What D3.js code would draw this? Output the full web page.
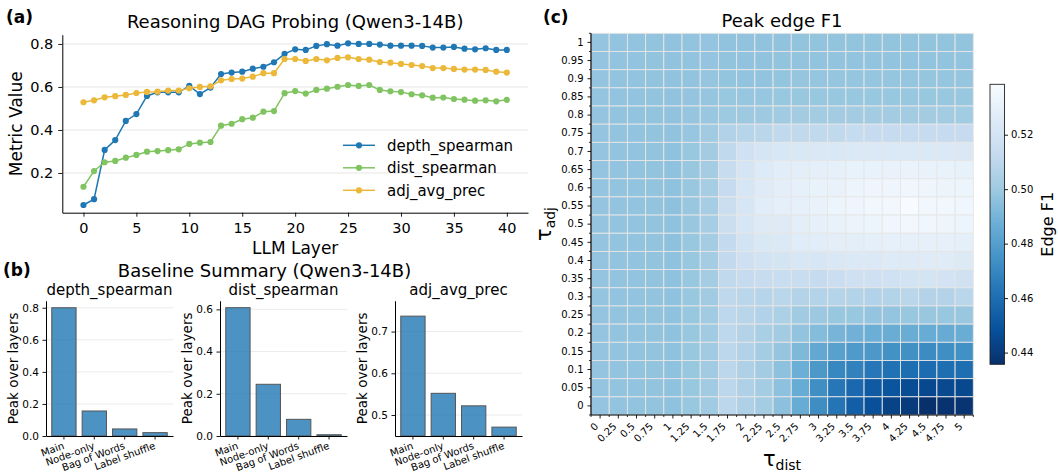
<!DOCTYPE html>
<html><head><meta charset="utf-8">
<script src="https://cdn.jsdelivr.net/npm/d3@7"></script>
<style>
body{margin:0;background:#fff}
svg{display:block}
text{font-family:"DejaVu Sans",sans-serif;fill:#000}
</style>
</head><body>
<svg id="c" width="1058" height="472"></svg>
<script>
// ---------------- DATA ----------------
const layers = [0,1,2,3,4,5,6,7,8,9,10,11,12,13,14,15,16,17,18,19,20,21,22,23,24,25,26,27,28,29,30,31,32,33,34,35,36,37,38,39,40];
const depthSpearman = [0.051,0.078,0.307,0.353,0.442,0.474,0.558,0.575,0.575,0.575,0.605,0.567,0.597,0.660,0.667,0.671,0.685,0.694,0.715,0.754,0.775,0.772,0.791,0.799,0.792,0.803,0.800,0.800,0.797,0.792,0.792,0.792,0.791,0.783,0.783,0.786,0.778,0.775,0.780,0.772,0.772];
const distSpearman = [0.136,0.209,0.250,0.256,0.271,0.284,0.299,0.302,0.306,0.310,0.335,0.341,0.344,0.420,0.429,0.450,0.457,0.485,0.488,0.571,0.581,0.569,0.586,0.592,0.601,0.609,0.605,0.609,0.586,0.580,0.576,0.566,0.561,0.550,0.551,0.544,0.541,0.536,0.538,0.533,0.540];
const adjAvgPrec = [0.529,0.538,0.552,0.557,0.563,0.572,0.577,0.578,0.583,0.583,0.594,0.600,0.603,0.631,0.637,0.639,0.648,0.664,0.664,0.730,0.730,0.721,0.730,0.724,0.735,0.738,0.730,0.727,0.716,0.713,0.707,0.702,0.697,0.688,0.688,0.684,0.681,0.681,0.679,0.671,0.667];
const seriesNames = ["depth_spearman","dist_spearman","adj_avg_prec"];
const layerTicks = [0,5,10,15,20,25,30,35,40];
const metricTicks = [0.2,0.4,0.6,0.8];

const baselines = ["Main","Node-only","Bag of Words","Label shuffle"];
const peakDepth = [0.800,0.156,0.044,0.021];
const peakDist = [0.608,0.245,0.079,0.006];
const peakAdj = [0.737,0.552,0.522,0.471];
const depthTicks = [0.0,0.2,0.4,0.6,0.8];
const distTicks = [0.0,0.2,0.4,0.6];
const adjTicks = [0.5,0.6,0.7];

const tauDist = ["0","0.25","0.5","0.75","1","1.25","1.5","1.75","2","2.25","2.5","2.75","3","3.25","3.5","3.75","4","4.25","4.5","4.75","5"];
const tauAdj = ["1","0.95","0.9","0.85","0.8","0.75","0.7","0.65","0.6","0.55","0.5","0.45","0.4","0.35","0.3","0.25","0.2","0.15","0.1","0.05","0"];
// rows in the order of tauAdj (top to bottom), columns in order of tauDist
const edgeF1 = [
 [.4974,.4972,.4972,.4970,.4968,.4972,.4974,.4968,.4966,.4966,.4968,.4970,.4970,.4970,.4970,.4970,.4970,.4970,.4970,.4970,.4970],
 [.4974,.4972,.4972,.4970,.4968,.4972,.4974,.4970,.4968,.4968,.4970,.4972,.4972,.4972,.4972,.4972,.4972,.4972,.4972,.4972,.4972],
 [.4974,.4972,.4972,.4970,.4968,.4972,.4976,.4975,.4972,.4972,.4975,.4976,.4976,.4976,.4976,.4976,.4976,.4976,.4976,.4976,.4976],
 [.4974,.4972,.4972,.4970,.4968,.4974,.4980,.4984,.4982,.4982,.4984,.4985,.4985,.4985,.4985,.4985,.4985,.4985,.4985,.4985,.4985],
 [.4974,.4972,.4972,.4970,.4968,.4976,.4986,.4996,.4996,.4996,.5010,.5014,.5014,.5015,.5015,.5015,.5015,.5015,.5015,.5015,.5012],
 [.4974,.4972,.4972,.4970,.4966,.4982,.5005,.5060,.5080,.5090,.5110,.5110,.5112,.5112,.5125,.5130,.5130,.5130,.5130,.5130,.5128],
 [.4974,.4972,.4972,.4970,.4962,.4984,.5015,.5110,.5175,.5210,.5225,.5232,.5235,.5235,.5238,.5238,.5238,.5238,.5238,.5238,.5235],
 [.4974,.4972,.4972,.4970,.4962,.4986,.5020,.5140,.5210,.5250,.5270,.5280,.5290,.5298,.5310,.5310,.5315,.5320,.5315,.5310,.5305],
 [.4974,.4972,.4972,.4970,.4962,.4986,.5022,.5130,.5215,.5260,.5280,.5298,.5310,.5315,.5334,.5340,.5340,.5345,.5340,.5334,.5330],
 [.4974,.4972,.4972,.4970,.4960,.4986,.5022,.5150,.5220,.5270,.5290,.5300,.5315,.5334,.5340,.5350,.5355,.5385,.5355,.5350,.5345],
 [.4974,.4972,.4972,.4970,.4962,.4986,.5022,.5150,.5220,.5255,.5257,.5280,.5298,.5310,.5325,.5334,.5345,.5354,.5345,.5340,.5334],
 [.4974,.4972,.4972,.4970,.4960,.4985,.5020,.5120,.5190,.5230,.5240,.5265,.5270,.5280,.5280,.5290,.5298,.5298,.5295,.5298,.5290],
 [.4974,.4972,.4972,.4970,.4962,.4985,.5020,.5115,.5170,.5190,.5200,.5225,.5220,.5235,.5240,.5240,.5255,.5255,.5260,.5260,.5245],
 [.4974,.4972,.4972,.4970,.4962,.4985,.5018,.5110,.5128,.5140,.5145,.5145,.5128,.5155,.5170,.5170,.5175,.5190,.5200,.5195,.5180],
 [.4974,.4972,.4972,.4970,.4962,.4984,.5010,.5105,.5090,.5080,.5087,.5066,.5066,.5075,.5066,.5060,.5066,.5087,.5070,.5070,.5087],
 [.4974,.4972,.4972,.4970,.4962,.4984,.5008,.5100,.5085,.5060,.5046,.5005,.4995,.4984,.4984,.4974,.4974,.4984,.4988,.4984,.4988],
 [.4974,.4972,.4972,.4970,.4962,.4984,.5006,.5100,.5070,.5035,.5015,.4972,.4933,.4900,.4885,.4870,.4865,.4865,.4860,.4858,.4865],
 [.4974,.4972,.4972,.4970,.4962,.4984,.5005,.5097,.5060,.5020,.4980,.4920,.4845,.4810,.4780,.4770,.4743,.4738,.4720,.4730,.4740],
 [.4974,.4972,.4972,.4970,.4962,.4984,.5005,.5095,.5055,.5015,.4958,.4870,.4770,.4700,.4676,.4635,.4614,.4600,.4594,.4600,.4600],
 [.4974,.4972,.4972,.4970,.4962,.4984,.5005,.5097,.5055,.5020,.4958,.4860,.4730,.4635,.4580,.4522,.4500,.4465,.4450,.4455,.4450],
 [.4974,.4972,.4972,.4970,.4962,.4984,.5005,.5095,.5055,.5020,.4955,.4860,.4725,.4625,.4540,.4480,.4430,.4400,.4357,.4370,.4375]
];
const colorbarTicks = [0.44,0.46,0.48,0.50,0.52];

// ---------------- DRAW ----------------
const svg = d3.select("#c");
const BLUES = ["#f7fbff","#deebf7","#c6dbef","#9ecae1","#6baed6","#4292c6","#2171b5","#08519c","#08306b"];

function styleAxis(g, fs){
  g.select(".domain").attr("stroke","#000").attr("stroke-width",1);
  g.selectAll(".tick line").attr("stroke","#000").attr("stroke-width",0.9);
  g.selectAll(".tick text").attr("font-size",fs).attr("fill","#000").attr("font-family","DejaVu Sans");
}

// ===== Panel (a) =====
const xA = d3.scaleLinear().domain([-2,42]).range([62.3,528]);
const yA = d3.scaleLinear().domain([0.0153,0.843]).range([212.7,34.7]);
const gA = svg.append("g");
gA.selectAll("line.grid").data(metricTicks).join("line")
  .attr("x1",xA.range()[0]).attr("x2",xA.range()[1])
  .attr("y1",d=>yA(d)).attr("y2",d=>yA(d))
  .attr("stroke","#e6e6e6").attr("stroke-width",1);
const axA_y = gA.append("g").attr("transform",`translate(${xA.range()[0]},0)`)
  .call(d3.axisLeft(yA).tickValues(metricTicks).tickFormat(d3.format(".1f")).tickSize(4).tickSizeOuter(0).tickPadding(5));
styleAxis(axA_y,"14.5px");
const axA_x = gA.append("g").attr("transform",`translate(0,${yA.range()[0]})`)
  .call(d3.axisBottom(xA).tickValues(layerTicks).tickFormat(d3.format("d")).tickSize(4).tickSizeOuter(0).tickPadding(6));
styleAxis(axA_x,"14.5px");

const series = [
  {name:seriesNames[0], values:depthSpearman, color:"#1f77b4"},
  {name:seriesNames[1], values:distSpearman, color:"#80c462"},
  {name:seriesNames[2], values:adjAvgPrec, color:"#ebb83a"}
];
const lineGen = d3.line().x((d,i)=>xA(layers[i])).y(d=>yA(d));
series.forEach(s=>{
  const g = gA.append("g");
  g.append("path").attr("d",lineGen(s.values)).attr("fill","none").attr("stroke",s.color).attr("stroke-width",1.5);
  g.selectAll("circle").data(s.values).join("circle")
    .attr("cx",(d,i)=>xA(layers[i])).attr("cy",d=>yA(d)).attr("r",3.1).attr("fill",s.color);
});
// legend
series.forEach((s,i)=>{
  const y = 145.3 + i*22.5;
  gA.append("line").attr("x1",343).attr("x2",375).attr("y1",y).attr("y2",y).attr("stroke",s.color).attr("stroke-width",1.5);
  gA.append("circle").attr("cx",359).attr("cy",y).attr("r",3.1).attr("fill",s.color);
  gA.append("text").attr("x",387).attr("y",y).attr("dy","0.35em").attr("font-size","15px").text(s.name);
});
gA.append("text").attr("x",(xA.range()[0]+xA.range()[1])/2).attr("y",28).attr("text-anchor","middle").attr("font-size","18px").text("Reasoning DAG Probing (Qwen3-14B)");
gA.append("text").attr("x",6).attr("y",23).attr("font-size","17px").attr("font-weight","bold").text("(a)");
gA.append("text").attr("transform",`translate(22,${(yA.range()[0]+yA.range()[1])/2}) rotate(-90)`).attr("text-anchor","middle").attr("font-size","17px").text("Metric Value");
gA.append("text").attr("x",(xA.range()[0]+xA.range()[1])/2).attr("y",254).attr("text-anchor","middle").attr("font-size","17px").text("LLM Layer");

// ===== Panel (b) =====
svg.append("text").attr("x",3).attr("y",276).attr("font-size","17px").attr("font-weight","bold").text("(b)");
svg.append("text").attr("x",264.5).attr("y",277).attr("text-anchor","middle").attr("font-size","18px").text("Baseline Summary (Qwen3-14B)");

function barPanel(left, title, values, domain, ticks){
  const w = 127, top = 300.7, bottom = 436;
  const x = d3.scaleBand().domain(baselines).range([left,left+w]).paddingInner(0.2).paddingOuter(0.19);
  const y = d3.scaleLinear().domain(domain).range([bottom,top]);
  const g = svg.append("g");
  g.selectAll("line.grid").data(ticks).join("line")
    .attr("x1",left).attr("x2",left+w).attr("y1",d=>y(d)).attr("y2",d=>y(d))
    .attr("stroke","#ebebeb").attr("stroke-width",1);
  g.selectAll("rect").data(values).join("rect")
    .attr("x",(d,i)=>x(baselines[i])).attr("width",x.bandwidth())
    .attr("y",d=>y(d)).attr("height",d=>bottom-y(d))
    .attr("fill","rgba(31,119,180,0.8)").attr("stroke","#555").attr("stroke-width",1);
  const ay = g.append("g").attr("transform",`translate(${left},0)`)
    .call(d3.axisLeft(y).tickValues(ticks).tickFormat(d3.format(".1f")).tickSize(3.5).tickSizeOuter(0).tickPadding(3.5));
  styleAxis(ay,"10.5px");
  const ax = g.append("g").attr("transform",`translate(0,${bottom})`)
    .call(d3.axisBottom(x).tickSize(3.5).tickSizeOuter(0));
  styleAxis(ax,"10px");
  ax.selectAll(".tick text").attr("text-anchor","end").attr("dy",null).attr("y",null)
    .attr("transform","translate(1,12.5) rotate(-20)");
  g.append("text").attr("x",left+w/2).attr("y",295).attr("text-anchor","middle").attr("font-size","15px").text(title);
  g.append("text").attr("transform",`translate(${left-28},${(top+bottom)/2}) rotate(-90)`).attr("text-anchor","middle").attr("font-size","13.5px").text("Peak over layers");
}
barPanel(46, seriesNames[0], peakDepth, [0,0.844], depthTicks);
barPanel(220, seriesNames[1], peakDist, [0,0.641], distTicks);
barPanel(395, seriesNames[2], peakAdj, [0.4497,0.774], adjTicks);

// ===== Panel (c) =====
const hx = d3.scaleBand().domain(tauDist).range([591,973.3]);
const hy = d3.scaleBand().domain(tauAdj).range([33.3,415]);
const allV = edgeF1.flat();
const [vmin,vmax] = d3.extent(allV);
const cmap = d3.scaleLinear().domain(BLUES.map((c,i)=>i/(BLUES.length-1))).range(BLUES).interpolate(d3.interpolateRgb);
const color = v => cmap((vmax - v)/(vmax - vmin));
const gC = svg.append("g");
edgeF1.forEach((row,ri)=>{
  gC.selectAll(null).data(row).join("rect")
    .attr("x",(d,ci)=>hx(tauDist[ci])).attr("y",hy(tauAdj[ri]))
    .attr("width",hx.bandwidth()).attr("height",hy.bandwidth())
    .attr("fill",d=>color(d)).attr("stroke","#e6e6e6").attr("stroke-width",0.9);
});
// spines
gC.append("line").attr("x1",591).attr("x2",591).attr("y1",33.3).attr("y2",415).attr("stroke","#000").attr("stroke-width",1.2);
gC.append("line").attr("x1",591).attr("x2",973.3).attr("y1",415).attr("y2",415).attr("stroke","#000").attr("stroke-width",1.2);
// minor ticks at cell edges
const edgesX = tauDist.map(t=>hx(t)).concat([hx.range()[1]]);
const edgesY = tauAdj.map(t=>hy(t)).concat([hy.range()[1]]);
gC.selectAll("line.mx").data(edgesX).join("line").attr("x1",d=>d).attr("x2",d=>d).attr("y1",415).attr("y2",417).attr("stroke","#000").attr("stroke-width",0.8);
gC.selectAll("line.my").data(edgesY).join("line").attr("y1",d=>d).attr("y2",d=>d).attr("x1",589).attr("x2",591).attr("stroke","#000").attr("stroke-width",0.8);
const hax = gC.append("g").attr("transform","translate(0,415)").call(d3.axisBottom(hx).tickSize(3.5).tickSizeOuter(0));
styleAxis(hax,"10px");
hax.select(".domain").remove();
hax.selectAll(".tick text").attr("text-anchor","end").attr("dy",null).attr("y",null)
  .attr("transform","translate(-1,12) rotate(-45)");
const hay = gC.append("g").attr("transform","translate(591,0)").call(d3.axisLeft(hy).tickSize(3.5).tickSizeOuter(0).tickPadding(4));
styleAxis(hay,"10px");
hay.select(".domain").remove();

gC.append("text").attr("x",543).attr("y",23).attr("font-size","17px").attr("font-weight","bold").text("(c)");
gC.append("text").attr("x",782).attr("y",27).attr("text-anchor","middle").attr("font-size","18px").text("Peak edge F1");
const tyl = gC.append("text").attr("transform","translate(551,224) rotate(-90)").attr("text-anchor","middle");
tyl.append("tspan").attr("font-size","21px").text("τ");
tyl.append("tspan").attr("font-size","14px").attr("dy",4).text("adj");
const txl = gC.append("text").attr("x",782).attr("y",466).attr("text-anchor","middle");
txl.append("tspan").attr("font-size","21px").text("τ");
txl.append("tspan").attr("font-size","14px").attr("dy",4).text("dist");

// colorbar
const cbX = 990, cbW = 14.5, cbTop = 84.3, cbBot = 364.3;
const cy = d3.scaleLinear().domain([vmin,vmax]).range([cbBot,cbTop]);
const defs = svg.append("defs");
const grad = defs.append("linearGradient").attr("id","cbg").attr("x1",0).attr("x2",0).attr("y1",1).attr("y2",0);
const nB = BLUES.length-1;
BLUES.forEach((c,i)=>{ grad.append("stop").attr("offset",i/nB).attr("stop-color",BLUES[nB-i]); });
svg.append("rect").attr("x",cbX).attr("y",cbTop).attr("width",cbW).attr("height",cbBot-cbTop).attr("fill","url(#cbg)").attr("stroke","#222").attr("stroke-width",0.9);
const cax = svg.append("g").attr("transform",`translate(${cbX+cbW},0)`)
  .call(d3.axisRight(cy).tickValues(colorbarTicks).tickFormat(d3.format(".2f")).tickSize(3.5).tickSizeOuter(0).tickPadding(3));
styleAxis(cax,"10px");
cax.select(".domain").remove();
svg.append("text").attr("transform",`translate(1053,${(cbTop+cbBot)/2}) rotate(-90)`).attr("text-anchor","middle").attr("font-size","16px").text("Edge F1");
</script>
</body></html>
